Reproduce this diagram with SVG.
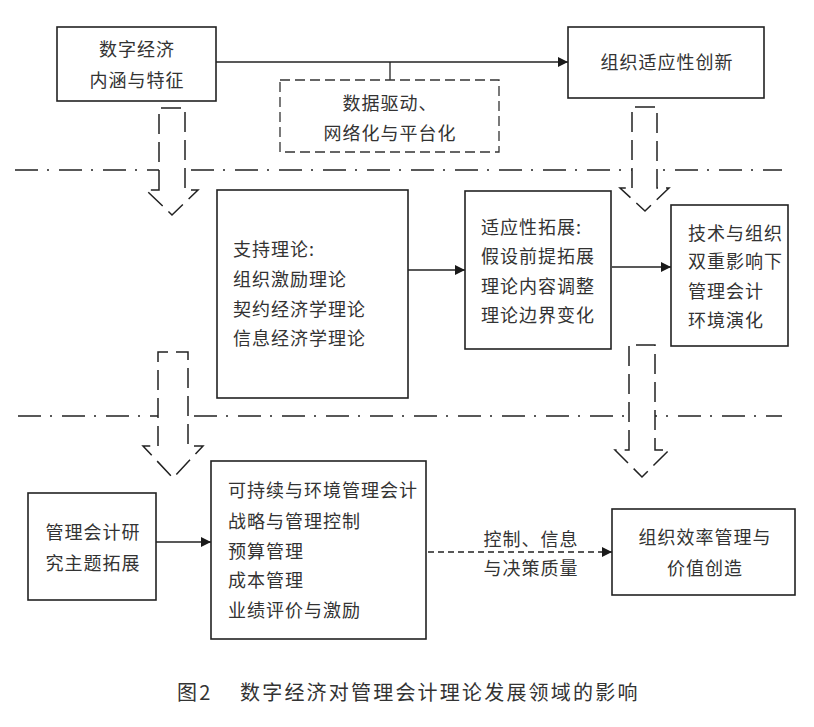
<svg xmlns="http://www.w3.org/2000/svg" width="814" height="727" viewBox="0 0 814 727">
<defs>
<marker id="ah" viewBox="0 0 10 10" refX="10" refY="5" markerWidth="10" markerHeight="10" markerUnits="userSpaceOnUse" orient="auto">
<path d="M0,0 L10,5 L0,10 Z" fill="#1a1a1a"/>
</marker>
</defs>
<style>
.box{fill:#fff;stroke:#222;stroke-width:1.6}
.dbox{fill:#fff;stroke:#333;stroke-width:1.3;stroke-dasharray:10,5}
.t{font-family:"Noto Sans CJK SC","Noto Sans CJK JP",sans-serif;font-size:18px;font-weight:400;fill:#333;letter-spacing:1px}
.c{text-anchor:middle}
.cap{font-family:"Noto Sans CJK SC","Noto Sans CJK JP",sans-serif;font-size:20px;font-weight:400;fill:#333;letter-spacing:2.2px}
.sep{stroke:#222;stroke-width:1.4;stroke-dasharray:23,9,2,10;fill:none}
.harrow{fill:#fff;stroke:#222;stroke-width:1.5;stroke-dasharray:20,8}
.line{stroke:#222;stroke-width:1.3;fill:none}
.dline{stroke:#222;stroke-width:1.3;fill:none;stroke-dasharray:6,4}
</style>
<rect width="814" height="727" fill="#fff"/>
<g id="separators">
<line class="sep" x1="15" y1="170" x2="782" y2="170"/>
<line class="sep" x1="18" y1="416" x2="782" y2="416"/>
</g>
<g id="connectors">
<line class="line" x1="216" y1="62" x2="568" y2="62" marker-end="url(#ah)"/>
<line class="line" x1="390" y1="62" x2="390" y2="80"/>
<line class="line" x1="408" y1="270" x2="465" y2="270" marker-end="url(#ah)"/>
<line class="line" x1="612" y1="267" x2="671" y2="267" marker-end="url(#ah)"/>
<line class="line" x1="156" y1="542" x2="211" y2="542" marker-end="url(#ah)"/>
<line class="dline" x1="428" y1="552" x2="612" y2="552" marker-end="url(#ah)"/>
<path class="harrow" d="M159,190 L159,108 L185,108 L185,190 L198,190 L172,215 L146,190 Z"/>
<path class="harrow" d="M632,188 L632,107 L657,107 L657,188 L669,188 L645,211 L620,188 Z"/>
<path class="harrow" d="M158,446 L158,352 L188,352 L188,446 L203,446 L173,478 L143,446 Z"/>
<path class="harrow" d="M629,450 L629,345 L655,345 L655,450 L669,450 L642,477 L615,450 Z"/>
</g>
<g id="n1">
<rect class="box" x="57" y="27" width="159" height="74"/>
<text class="t c" x="137" y="56">数字经济</text>
<text class="t c" x="137" y="87">内涵与特征</text>
</g>
<g id="n2">
<rect class="box" x="568" y="27" width="196" height="71"/>
<text class="t c" x="667" y="69">组织适应性创新</text>
</g>
<g id="n3">
<rect class="dbox" x="280" y="80" width="219" height="72"/>
<text class="t c" x="390" y="110">数据驱动、</text>
<text class="t c" x="390" y="140">网络化与平台化</text>
</g>
<g id="n4">
<rect class="box" x="217" y="190" width="191" height="208"/>
<text class="t" x="233" y="256">支持理论:</text>
<text class="t" x="233" y="286">组织激励理论</text>
<text class="t" x="233" y="316">契约经济学理论</text>
<text class="t" x="233" y="345">信息经济学理论</text>
</g>
<g id="n5">
<rect class="box" x="465" y="191" width="146" height="158"/>
<text class="t" x="481" y="234">适应性拓展:</text>
<text class="t" x="481" y="263">假设前提拓展</text>
<text class="t" x="481" y="293">理论内容调整</text>
<text class="t" x="481" y="322">理论边界变化</text>
</g>
<g id="n6">
<rect class="box" x="671" y="205" width="117" height="141"/>
<text class="t" x="688" y="240">技术与组织</text>
<text class="t" x="688" y="268">双重影响下</text>
<text class="t" x="688" y="298">管理会计</text>
<text class="t" x="688" y="327">环境演化</text>
</g>
<g id="n7">
<rect class="box" x="28" y="493" width="128" height="107"/>
<text class="t c" x="93" y="539">管理会计研</text>
<text class="t c" x="93" y="570">究主题拓展</text>
</g>
<g id="n8">
<rect class="box" x="211" y="461" width="215" height="178"/>
<text class="t" x="228" y="497">可持续与环境管理会计</text>
<text class="t" x="228" y="528">战略与管理控制</text>
<text class="t" x="228" y="558">预算管理</text>
<text class="t" x="228" y="587">成本管理</text>
<text class="t" x="228" y="617">业绩评价与激励</text>
</g>
<g id="label">
<text class="t c" x="531" y="546">控制、信息</text>
<text class="t c" x="531" y="575">与决策质量</text>
</g>
<g id="n9">
<rect class="box" x="612" y="509" width="183" height="86"/>
<text class="t c" x="705" y="544">组织效率管理与</text>
<text class="t c" x="705" y="575">价值创造</text>
</g>
<g id="caption">
<text class="cap" x="177" y="700">图2</text>
<text class="cap" x="240" y="700">数字经济对管理会计理论发展领域的影响</text>
</g>
</svg>
